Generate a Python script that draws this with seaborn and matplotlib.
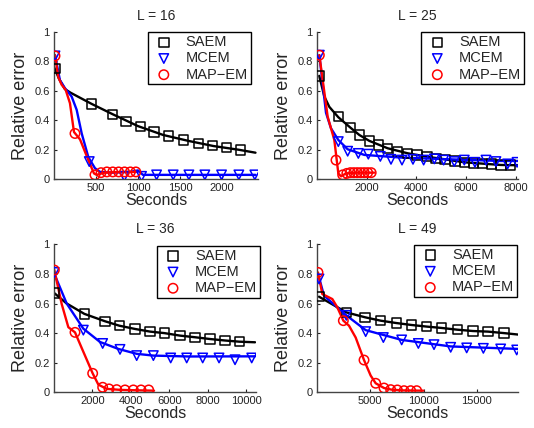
import matplotlib
matplotlib.use('Agg')
import matplotlib.pyplot as plt
import seaborn as sns

# panel titles / method names
panel_titles = ['L = 16', 'L = 25', 'L = 36', 'L = 49']
methods = ['SAEM', 'MCEM', 'MAP−EM']

# ---- L = 16 ----
l16_saem_line_x = [0, 60, 130, 200, 449, 700, 1000, 1300, 1600, 1900, 2200, 2400]
l16_saem_line_y = [0.76, 0.68, 0.61, 0.585, 0.51, 0.44, 0.36, 0.30, 0.26, 0.225, 0.20, 0.18]
l16_saem_mark_x = [10, 449, 695, 857, 1032, 1191, 1362, 1540, 1719, 1890, 2056, 2223]
l16_saem_mark_y = [0.75, 0.51, 0.44, 0.39, 0.357, 0.32, 0.293, 0.266, 0.244, 0.228, 0.214, 0.199]

l16_mcem_line_x = [12, 71, 131, 210, 270, 330, 409, 488, 548, 700, 900, 1000, 1060, 1400, 1800, 2400]
l16_mcem_line_y = [0.84, 0.67, 0.616, 0.56, 0.47, 0.31, 0.15, 0.075, 0.05, 0.045, 0.05, 0.06, 0.03, 0.03, 0.03, 0.03]
l16_mcem_mark_x = [12, 420, 837, 1043, 1222, 1420, 1607, 1797, 1996, 2202, 2392]
l16_mcem_mark_y = [0.835, 0.12, 0.02, 0.02, 0.03, 0.03, 0.03, 0.03, 0.03, 0.03, 0.03]

l16_map_line_x = [12, 52, 91, 139, 190, 238, 310, 409, 476, 508, 600, 800, 980]
l16_map_line_y = [0.84, 0.69, 0.64, 0.605, 0.515, 0.32, 0.27, 0.13, 0.04, 0.03, 0.045, 0.05, 0.05]
l16_map_mark_x = [12, 250, 488, 560, 630, 700, 770, 840, 910, 975]
l16_map_mark_y = [0.835, 0.31, 0.03, 0.045, 0.05, 0.05, 0.05, 0.05, 0.05, 0.05]

# ---- L = 25 ----
l25_saem_line_x = [90, 295, 496, 858, 1341, 1703, 2105, 2843, 3648, 4425, 5149, 5927, 6665, 7402, 8100]
l25_saem_line_y = [0.70, 0.56, 0.49, 0.42, 0.35, 0.30, 0.26, 0.21, 0.176, 0.153, 0.135, 0.115, 0.106, 0.097, 0.095]
l25_saem_mark_x = [90, 858, 1341, 1703, 2105, 2467, 2843, 3245, 3648, 4023, 4425, 4787, 5149,
                   5552, 5927, 6303, 6665, 7027, 7402, 7778]
l25_saem_mark_y = [0.70, 0.424, 0.35, 0.30, 0.26, 0.233, 0.21, 0.19, 0.176, 0.165, 0.153, 0.142, 0.135,
                   0.124, 0.115, 0.11, 0.106, 0.104, 0.097, 0.097]

l25_mcem_line_x = [94, 362, 563, 858, 1234, 1904, 3380, 5391, 7402, 8100]
l25_mcem_line_y = [0.84, 0.45, 0.345, 0.266, 0.203, 0.165, 0.147, 0.135, 0.124, 0.124]
l25_mcem_mark_x = [94, 858, 1234, 1663, 2065, 2548, 2977, 3420, 3862, 4291, 4720, 5096, 5525,
                   5927, 6356, 6799, 7201, 7671, 8050]
l25_mcem_mark_y = [0.84, 0.255, 0.19, 0.175, 0.17, 0.155, 0.135, 0.13, 0.135, 0.13, 0.138, 0.13, 0.12,
                   0.13, 0.115, 0.13, 0.12, 0.104, 0.115]

l25_map_line_x = [94, 429, 697, 858, 966, 1166, 1600, 2306]
l25_map_line_y = [0.84, 0.424, 0.266, 0.04, 0.02, 0.04, 0.045, 0.045]
l25_map_mark_x = [94, 764, 1033, 1200, 1340, 1480, 1620, 1760, 1900, 2040, 2180]
l25_map_mark_y = [0.84, 0.13, 0.03, 0.04, 0.045, 0.045, 0.045, 0.045, 0.045, 0.045, 0.045]

# ---- L = 36 ----
l36_saem_line_x = [17, 659, 1577, 2652, 3397, 4211, 5000, 5736, 6551, 7331, 8111, 8890, 9635, 10450]
l36_saem_line_y = [0.67, 0.60, 0.53, 0.48, 0.45, 0.428, 0.41, 0.40, 0.383, 0.372, 0.36, 0.35, 0.342, 0.338]
l36_saem_mark_x = [17, 1577, 2652, 3397, 4211, 5000, 5736, 6551, 7331, 8111, 8890, 9635]
l36_saem_mark_y = [0.67, 0.53, 0.48, 0.45, 0.428, 0.41, 0.40, 0.383, 0.372, 0.36, 0.35, 0.342]

l36_mcem_line_x = [17, 659, 1525, 2391, 3345, 4298, 5165, 7000, 10450]
l36_mcem_line_y = [0.80, 0.60, 0.43, 0.34, 0.293, 0.26, 0.248, 0.242, 0.243]
l36_mcem_mark_x = [17, 1525, 2530, 3431, 4298, 5165, 6066, 6898, 7729, 8578, 9410, 10277]
l36_mcem_mark_y = [0.81, 0.42, 0.33, 0.29, 0.248, 0.248, 0.232, 0.232, 0.232, 0.232, 0.22, 0.232]

l36_map_line_x = [17, 399, 745, 1092, 1438, 2010, 2305, 2738, 3500, 5200]
l36_map_line_y = [0.826, 0.597, 0.44, 0.405, 0.30, 0.128, 0.052, 0.023, 0.016, 0.011]
l36_map_mark_x = [17, 1092, 2010, 2530, 2860, 3258, 3691, 4125, 4523, 4922]
l36_map_mark_y = [0.826, 0.405, 0.128, 0.034, 0.023, 0.018, 0.016, 0.016, 0.016, 0.016]

# ---- L = 49 ----
l49_saem_line_x = [188, 2754, 4507, 5978, 7449, 8858, 10298, 11675, 13177, 14648, 16057, 17559, 18900]
l49_saem_line_y = [0.646, 0.54, 0.507, 0.484, 0.468, 0.455, 0.444, 0.435, 0.423, 0.414, 0.41, 0.40, 0.39]
l49_saem_mark_x = [188, 2754, 4507, 5978, 7449, 8858, 10298, 11675, 13177, 14648, 16057, 17559]
l49_saem_mark_y = [0.646, 0.54, 0.507, 0.484, 0.468, 0.455, 0.444, 0.435, 0.423, 0.414, 0.41, 0.40]

l49_mcem_line_x = [188, 657, 2754, 4570, 7950, 12551, 18900]
l49_mcem_line_y = [0.777, 0.653, 0.52, 0.42, 0.354, 0.31, 0.293]
l49_mcem_mark_x = [188, 2754, 4570, 6229, 7950, 9515, 10986, 12551, 14054, 15619, 17246, 18749]
l49_mcem_mark_y = [0.766, 0.52, 0.41, 0.37, 0.354, 0.33, 0.322, 0.304, 0.30, 0.297, 0.293, 0.286]

l49_map_line_x = [94, 500, 1440, 1909, 2473, 3005, 3631, 4413, 5039, 5509, 6291, 7000, 8000, 9985]
l49_map_line_y = [0.81, 0.664, 0.63, 0.574, 0.484, 0.45, 0.37, 0.218, 0.113, 0.061, 0.029, 0.018, 0.013, 0.011]
l49_map_mark_x = [94, 2473, 4413, 5509, 6291, 6917, 7543, 8169, 8795, 9359]
l49_map_mark_y = [0.81, 0.484, 0.218, 0.061, 0.029, 0.018, 0.016, 0.011, 0.011, 0.011]

x_limits = [2430, 8100, 10500, 18900]
x_ticks = [[500, 1000, 1500, 2000],
           [2000, 4000, 6000, 8000],
           [2000, 4000, 6000, 8000, 10000],
           [5000, 10000, 15000]]

colors = ['black', '#0000ff', '#ff0000']
markers = ['s', 'v', 'o']

sns.set_style('ticks')
plt.rcParams['font.family'] = ['Liberation Sans', 'DejaVu Sans']

fig = plt.figure(figsize=(5.34, 4.28), dpi=100)

# axes rectangles in pixels (left, right, top, bottom)
rects_px = [(54, 258, 31.5, 179.3), (317, 518.3, 31.5, 179.3),
            (54, 256, 244.3, 392.3), (317, 518.3, 244.3, 392.3)]
legend_anchor = [(0.965, 0.995), (1.03, 0.995), (1.02, 0.99), (0.995, 0.995)]

panels = [
    [(l16_saem_line_x, l16_saem_line_y, l16_saem_mark_x, l16_saem_mark_y),
     (l16_mcem_line_x, l16_mcem_line_y, l16_mcem_mark_x, l16_mcem_mark_y),
     (l16_map_line_x, l16_map_line_y, l16_map_mark_x, l16_map_mark_y)],
    [(l25_saem_line_x, l25_saem_line_y, l25_saem_mark_x, l25_saem_mark_y),
     (l25_mcem_line_x, l25_mcem_line_y, l25_mcem_mark_x, l25_mcem_mark_y),
     (l25_map_line_x, l25_map_line_y, l25_map_mark_x, l25_map_mark_y)],
    [(l36_saem_line_x, l36_saem_line_y, l36_saem_mark_x, l36_saem_mark_y),
     (l36_mcem_line_x, l36_mcem_line_y, l36_mcem_mark_x, l36_mcem_mark_y),
     (l36_map_line_x, l36_map_line_y, l36_map_mark_x, l36_map_mark_y)],
    [(l49_saem_line_x, l49_saem_line_y, l49_saem_mark_x, l49_saem_mark_y),
     (l49_mcem_line_x, l49_mcem_line_y, l49_mcem_mark_x, l49_mcem_mark_y),
     (l49_map_line_x, l49_map_line_y, l49_map_mark_x, l49_map_mark_y)],
]

W, H = 534, 428
for i, series in enumerate(panels):
    l, r, t, b = rects_px[i]
    ax = fig.add_axes([l / W, 1 - b / H, (r - l) / W, (b - t) / H])

    for (lx, ly, mx, my), name, c, m in zip(series, methods, colors, markers):
        sns.lineplot(x=lx, y=ly, ax=ax, color=c, linewidth=1.7, estimator=None)
        sns.scatterplot(x=mx, y=my, ax=ax, marker=m, s=46, facecolors='none',
                        edgecolor=c, linewidth=1.1, label=name, zorder=3)

    ax.set_xlim(0, x_limits[i])
    ax.set_ylim(0, 1)
    ax.set_xticks(x_ticks[i])
    ax.set_xticklabels([str(v) for v in x_ticks[i]])
    ax.set_yticks([0, 0.2, 0.4, 0.6, 0.8, 1])
    ax.set_yticklabels(['0', '0.2', '0.4', '0.6', '0.8', '1'])
    ax.tick_params(direction='in', length=2.5, width=0.8, labelsize=8, pad=3, colors='#222222')
    sns.despine(ax=ax)
    for sp in ['left', 'bottom']:
        ax.spines[sp].set_color('#444444')
        ax.spines[sp].set_linewidth(1.0)

    ax.set_title(panel_titles[i], fontsize=10, pad=8)
    ax.set_xlabel('Seconds', fontsize=11.5, labelpad=0)
    ax.set_ylabel('Relative error', fontsize=13, labelpad=4)

    leg = ax.legend(loc='upper right', bbox_to_anchor=legend_anchor[i], borderaxespad=0,
                    frameon=True, fancybox=False, framealpha=1, edgecolor='black',
                    fontsize=10.5, handletextpad=0.6, borderpad=0.2, labelspacing=0.15,
                    handlelength=1.8)
    leg.get_frame().set_linewidth(1.0)

fig.savefig('out.png', dpi=100)
